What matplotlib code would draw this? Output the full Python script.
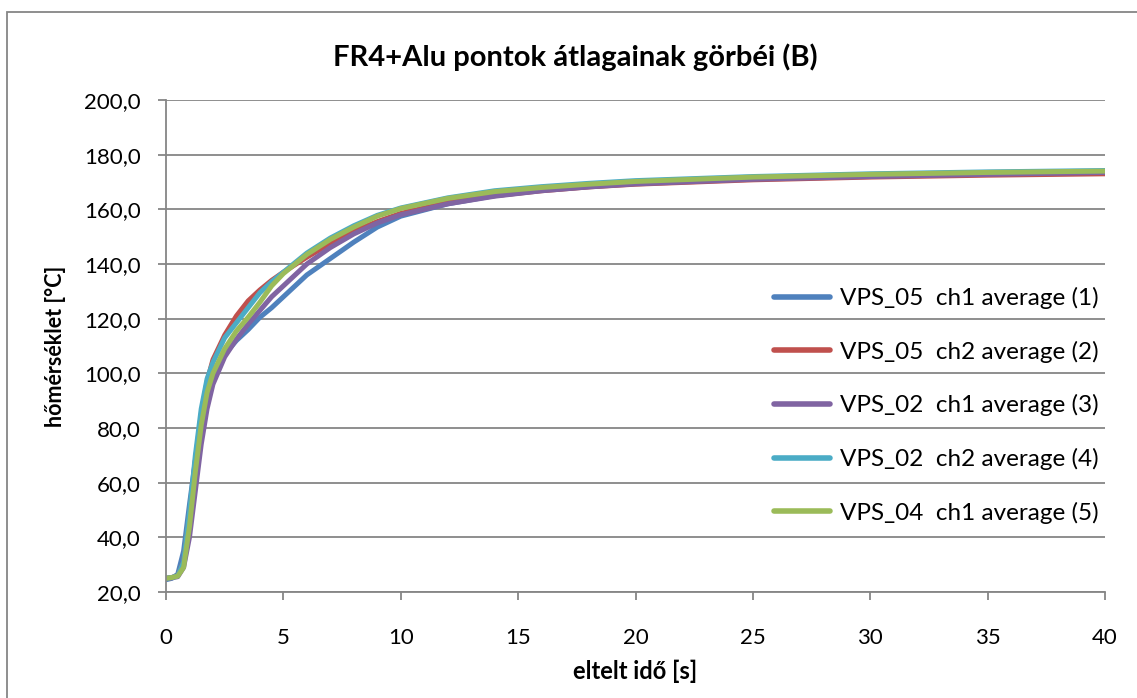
import matplotlib
matplotlib.use("Agg")
import matplotlib.pyplot as plt
from matplotlib.patches import Rectangle
from matplotlib.ticker import FuncFormatter

plt.rcParams['font.family'] = ['Lato', 'DejaVu Sans']

time_s = [0, 0.25, 0.5, 0.75, 1.0, 1.25, 1.5, 1.75, 2.0, 2.5, 3.0, 3.5, 4.0, 4.5, 5.0,
          6, 7, 8, 9, 10, 12, 14, 16, 18, 20, 25, 30, 35, 40]

vps05_ch1 = [24.5, 25.0, 26.5, 35, 52, 68, 82, 92, 99, 107, 112, 116, 120.5, 124, 128,
             136, 142, 148, 153.5, 157.5, 162, 165, 167, 168.3, 169.5, 171.2, 172.2, 172.8, 173.3]
vps05_ch2 = [25.0, 25.3, 26.0, 31, 48, 68, 85, 97, 105, 114, 121, 126.5, 130.5, 134, 137,
             142.5, 147.5, 152, 155.5, 158.5, 162.5, 165, 166.8, 168.2, 169.2, 170.8, 171.8, 172.5, 173.0]
vps02_ch1 = [25.0, 25.2, 25.6, 29, 40, 57, 74, 87, 96, 106, 112.5, 118, 123, 128, 132,
             140, 146, 151, 155, 158, 162, 164.8, 166.8, 168.2, 169.3, 171, 172, 172.8, 173.5]
vps02_ch2 = [25.0, 25.3, 26.0, 31, 49, 70, 87, 98, 104, 113, 118.5, 124, 129.5, 133.5, 137,
             144, 149.5, 154, 157.8, 160.5, 164.2, 166.8, 168.3, 169.5, 170.5, 172, 173, 173.7, 174.2]
vps04_ch1 = [25.0, 25.3, 25.8, 29, 44, 64, 81, 93, 100, 109, 115.5, 120.5, 126, 132, 136.5,
             143.5, 149, 153.5, 157.5, 160.3, 164, 166.5, 168, 169.2, 170.2, 171.8, 172.8, 173.5, 174.0]

series = [
    ("VPS_05  ch1 average (1)", vps05_ch1, "#4F81BD"),
    ("VPS_05  ch2 average (2)", vps05_ch2, "#C0504D"),
    ("VPS_02  ch1 average (3)", vps02_ch1, "#8064A2"),
    ("VPS_02  ch2 average (4)", vps02_ch2, "#4BACC6"),
    ("VPS_04  ch1 average (5)", vps04_ch1, "#9BBB59"),
]

title = "FR4+Alu pontok átlagainak görbéi (B)"
xlabel = "eltelt idő [s]"
ylabel = "hőmérséklet [°C]"

W, H = 1137, 698
fig = plt.figure(figsize=(W / 100, H / 100), dpi=100)
fig.patch.set_facecolor("white")
fig.patches.append(Rectangle((7 / W, -0.05), 1.2, 1 - 12 / H + 0.05, transform=fig.transFigure,
                             fill=False, edgecolor="#868686", linewidth=1.3))

ax = fig.add_axes([166 / W, 1 - 592 / H, (1105 - 166) / W, (592 - 100) / H])
for name, vals, col in series:
    ax.plot(time_s, vals, color=col, linewidth=3.6, label=name, solid_capstyle="round",
            solid_joinstyle="round")

ax.set_xlim(0, 40)
ax.set_ylim(20, 200)
ax.set_xticks(range(0, 41, 5))
ax.set_yticks(range(20, 201, 20))
ax.yaxis.set_major_formatter(FuncFormatter(lambda v, p: f"{v:.1f}".replace(".", ",")))
ax.grid(axis="y", color="#868686", linewidth=1.3)
ax.set_axisbelow(True)
for s in ["top", "right"]:
    ax.spines[s].set_visible(False)
for s in ["left", "bottom"]:
    ax.spines[s].set_color("#868686")
    ax.spines[s].set_linewidth(1.3)
ax.tick_params(axis="both", colors="#868686", width=1.3, length=6, labelsize=16,
               labelcolor="black", direction="out")
ax.tick_params(axis="x", pad=20)
ax.tick_params(axis="y", pad=12)

ax.set_xlabel(xlabel, fontsize=17, fontweight="bold", labelpad=8)
ax.set_ylabel(ylabel, fontsize=15.5, fontweight="bold", labelpad=13)
fig.text(575 / W, 1 - 57 / H, title, ha="center", va="center", fontsize=21, fontweight="bold")

leg = ax.legend(loc="upper left", bbox_to_anchor=((774 - 166) / (1105 - 166), (592 - 287) / (592 - 100)),
                frameon=False, fontsize=17.5, handlelength=2.3, handletextpad=0.4,
                labelspacing=1.3, borderpad=0, borderaxespad=0)
for line in leg.get_lines():
    line.set_linewidth(4)

fig.savefig("out.png", dpi=100)
